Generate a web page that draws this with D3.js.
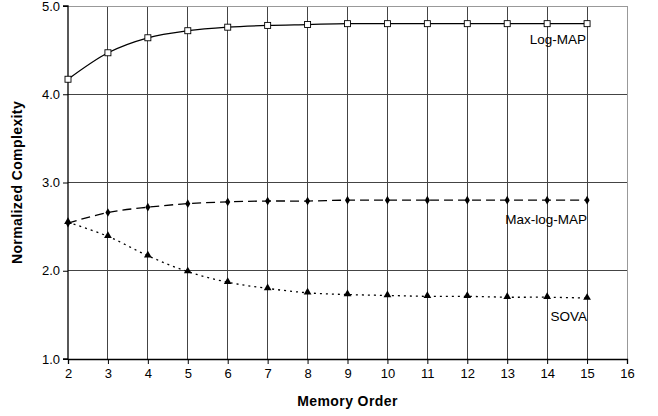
<!DOCTYPE html>
<html><head><meta charset="utf-8">
<script src="https://cdn.jsdelivr.net/npm/d3@7"></script>
<style>body{margin:0;background:#fff}svg{display:block}text{font-family:"Liberation Sans",Arial,sans-serif}</style>
</head><body><svg id="c" width="658" height="416"></svg>
<script>
const memoryOrder = [2,3,4,5,6,7,8,9,10,11,12,13,14,15];
const logMAP    = [4.17,4.47,4.64,4.72,4.76,4.78,4.79,4.80,4.80,4.80,4.80,4.80,4.80,4.80];
const maxLogMAP = [2.54,2.66,2.72,2.76,2.78,2.79,2.79,2.80,2.80,2.80,2.80,2.80,2.80,2.80];
const sova      = [2.55,2.39,2.17,1.99,1.87,1.80,1.75,1.73,1.72,1.71,1.71,1.70,1.70,1.69];
const xTicks = [2,3,4,5,6,7,8,9,10,11,12,13,14,15,16];
const yTicks = [1.0,2.0,3.0,4.0,5.0];
const seriesNames = ["Log-MAP","Max-log-MAP","SOVA"];

const svg = d3.select("#c");
const L=68, R=627, T=6, B=359;
const x = d3.scaleLinear().domain([2,16]).range([L,R]);
const y = d3.scaleLinear().domain([1,5]).range([B,T]);

// grid
const g = svg.append("g");
g.selectAll(".vg").data(xTicks.slice(1,-1)).enter().append("line")
  .attr("x1",d=>x(d)).attr("x2",d=>x(d)).attr("y1",T).attr("y2",B)
  .attr("stroke","#444").attr("stroke-width",1).attr("shape-rendering","crispEdges");
g.selectAll(".hg").data(yTicks.slice(1,-1)).enter().append("line")
  .attr("x1",L).attr("x2",R).attr("y1",d=>y(d)).attr("y2",d=>y(d))
  .attr("stroke","#444").attr("stroke-width",1).attr("shape-rendering","crispEdges");
g.append("line").attr("x1",L).attr("x2",R).attr("y1",T).attr("y2",T).attr("stroke","#999").attr("shape-rendering","crispEdges");
g.append("line").attr("x1",R).attr("x2",R).attr("y1",T).attr("y2",B).attr("stroke","#999").attr("shape-rendering","crispEdges");

// axes
const xAxis = d3.axisBottom(x).tickValues(xTicks).tickFormat(d3.format("d")).tickSize(5).tickPadding(5);
const yAxis = d3.axisLeft(y).tickValues(yTicks).tickFormat(d3.format(".1f")).tickSize(5).tickPadding(3);
const gx = svg.append("g").attr("transform",`translate(0,${B})`).call(xAxis);
const gy = svg.append("g").attr("transform",`translate(${L},0)`).call(yAxis);
[gx,gy].forEach(a=>{
  a.select(".domain").attr("stroke","#000").attr("stroke-width",1.3);
  a.selectAll(".tick line").attr("stroke","#000");
  a.selectAll(".tick text").attr("font-size",13).attr("fill","#000").style("font-family","'Liberation Sans',Arial,sans-serif");
});
gy.select(".domain").attr("d",`M-5,${T}H0V${B}H-5`);

// titles
svg.append("text").attr("x",(L+R)/2).attr("y",406).attr("text-anchor","middle")
  .attr("font-size",14).attr("letter-spacing",0.4).attr("font-weight","bold").text("Memory Order");
svg.append("text").attr("transform",`translate(22,${(T+B)/2}) rotate(-90)`).attr("text-anchor","middle")
  .attr("font-size",14).attr("letter-spacing",0.4).attr("font-weight","bold").text("Normalized Complexity");

const curve = d3.curveCardinal.tension(0);
const line = d3.line().x(d=>x(d[0])).y(d=>y(d[1])).curve(curve);
const zip = vals => memoryOrder.map((m,i)=>[m,vals[i]]);

// Log-MAP
svg.append("path").datum(zip(logMAP)).attr("d",line).attr("fill","none").attr("stroke","#000").attr("stroke-width",1.3);
svg.selectAll(".sq").data(zip(logMAP)).enter().append("rect")
  .attr("x",d=>x(d[0])-3).attr("y",d=>y(d[1])-3).attr("width",6).attr("height",6)
  .attr("fill","#fff").attr("stroke","#000").attr("stroke-width",0.9);

// Max-log-MAP
svg.append("path").datum(zip(maxLogMAP)).attr("d",line).attr("fill","none").attr("stroke","#000")
  .attr("stroke-width",1.3).attr("stroke-dasharray","9,5");
svg.selectAll(".dm").data(zip(maxLogMAP)).enter().append("path")
  .attr("d",d3.symbol(d3.symbolDiamond,22)).attr("transform",d=>`translate(${x(d[0])},${y(d[1])})`).attr("fill","#000");

// SOVA
svg.append("path").datum(zip(sova)).attr("d",line).attr("fill","none").attr("stroke","#000")
  .attr("stroke-width",1.3).attr("stroke-dasharray","2,4");
svg.selectAll(".tr").data(zip(sova)).enter().append("path")
  .attr("d",d3.symbol(d3.symbolTriangle,26)).attr("transform",d=>`translate(${x(d[0])},${y(d[1])-0.5})`).attr("fill","#000");

// series labels
const lbl = [[seriesNames[0],586,44],[seriesNames[1],587,224],[seriesNames[2],587,321]];
svg.selectAll(".lbl").data(lbl).enter().append("text")
  .attr("x",d=>d[1]).attr("y",d=>d[2]).attr("text-anchor","end").attr("font-size",13.5).text(d=>d[0]);
</script></body></html>
